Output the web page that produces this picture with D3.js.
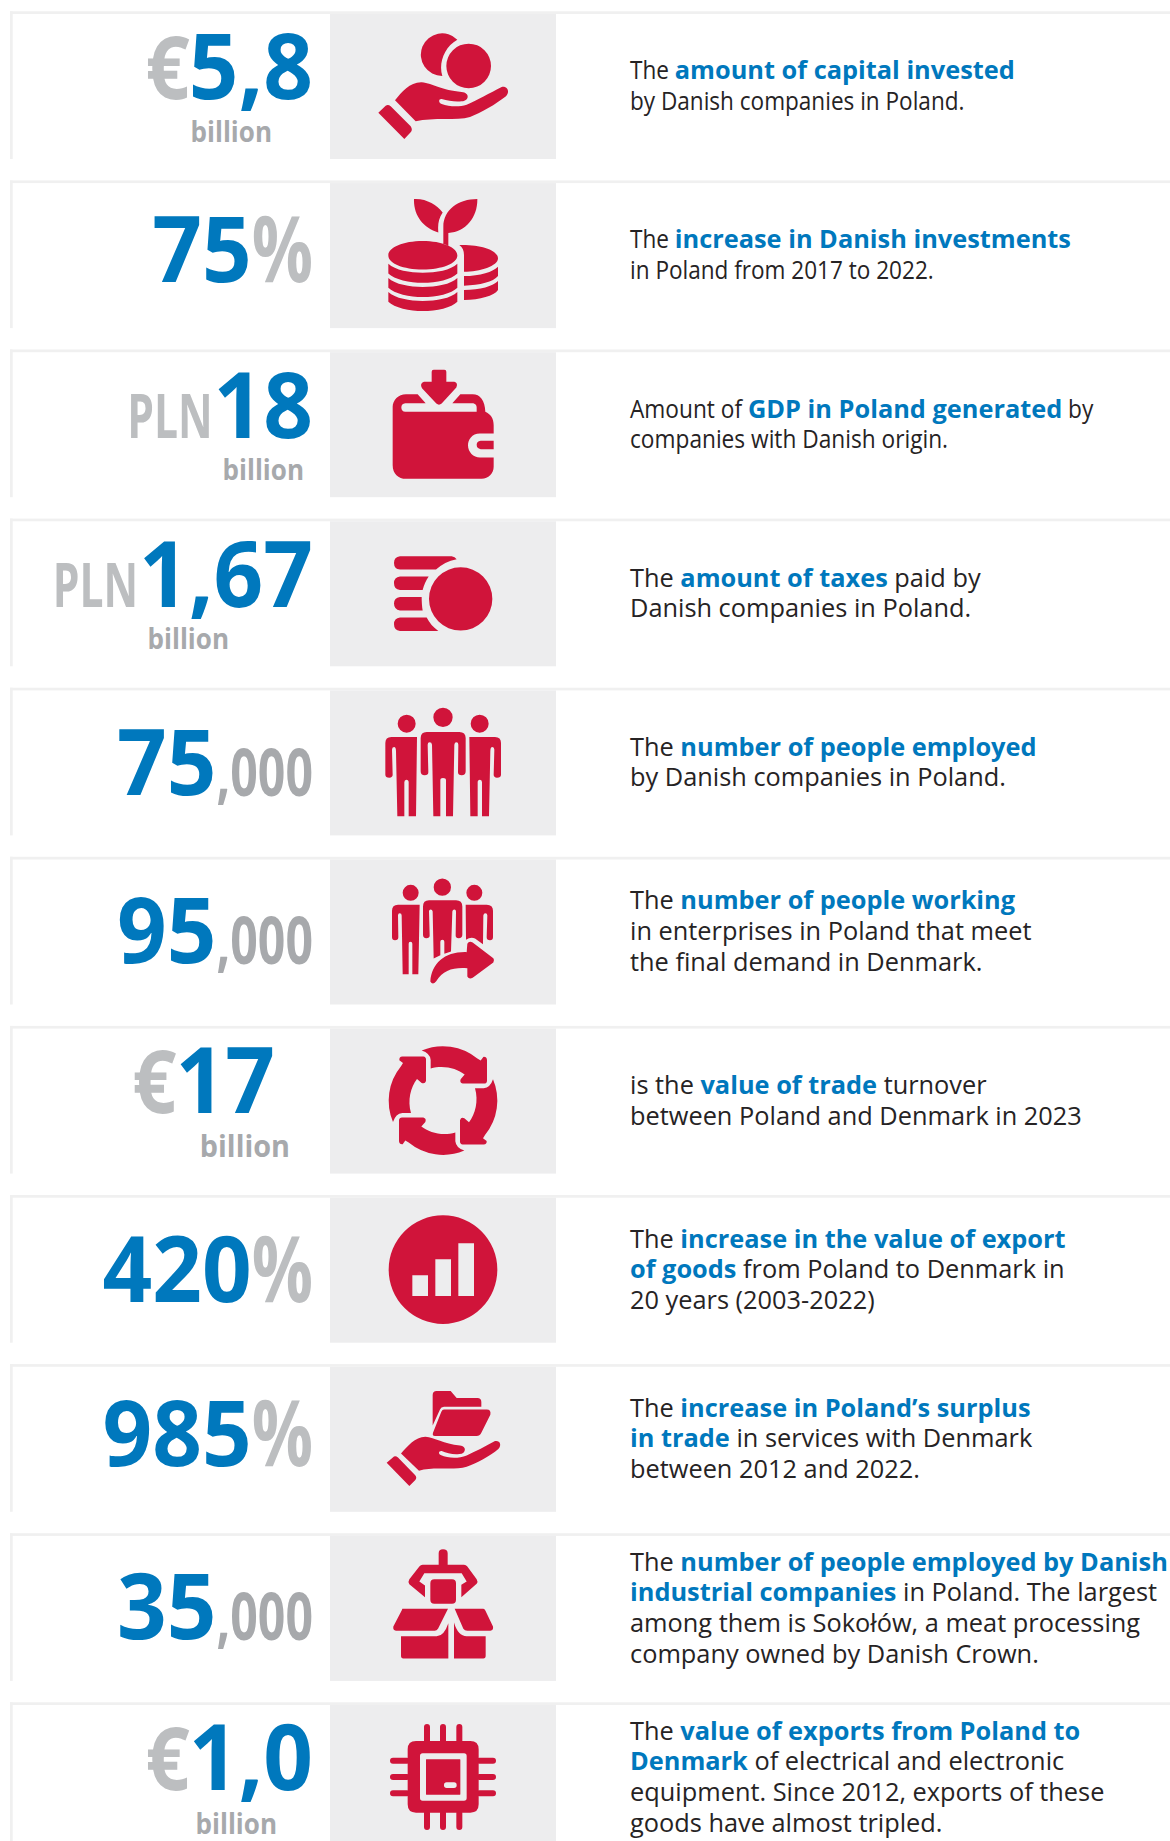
<!DOCTYPE html>
<html>
<head>
<meta charset="utf-8">
<script src="https://cdn.jsdelivr.net/npm/d3@7.9.0/dist/d3.min.js"></script>
<style>
  html, body { margin: 0; padding: 0; background: #fff; }
  svg { display: block; }
  text { font-family: "Open Sans", sans-serif; white-space: pre; }
</style>
</head>
<body>
<div id="chart"></div>
<script>
/* ---------------------------------------------------------
   DATA
--------------------------------------------------------- */
const prefixes = ['€', '', 'PLN', 'PLN', '', '', '€', '', '', '', '€'];
const numbers = ['5,8', '75', '18', '1,67', '75', '95', '17', '420', '985', '35', '1,0'];
const suffixes = ['', '%', '', '', ',000', ',000', '', '%', '%', ',000', ''];
const units = ['billion', '', 'billion', 'billion', '', '', 'billion', '', '', '', 'billion'];

// text between * * is the blue bold part
const descriptions = [
  ['The *amount of capital invested*', 'by Danish companies in Poland.'],
  ['The *increase in Danish investments*', 'in Poland from 2017 to 2022.'],
  ['Amount of *GDP in Poland generated* by', 'companies with Danish origin.'],
  ['The *amount of taxes* paid by', 'Danish companies in Poland.'],
  ['The *number of people employed*', 'by Danish companies in Poland.'],
  ['The *number of people working*', 'in enterprises in Poland that meet', 'the final demand in Denmark.'],
  ['is the *value of trade* turnover', 'between Poland and Denmark in 2023'],
  ['The *increase in the value of export*', '*of goods* from Poland to Denmark in', '20 years (2003-2022)'],
  ['The *increase in Poland’s surplus*', '*in trade* in services with Denmark', 'between 2012 and 2022.'],
  ['The *number of people employed by Danish*', '*industrial companies* in Poland. The largest', 'among them is Sokołów, a meat processing', 'company owned by Danish Crown.'],
  ['The *value of exports from Poland to*', '*Denmark* of electrical and electronic', 'equipment. Since 2012, exports of these', 'goods have almost tripled.']
];

/* ---------------------------------------------------------
   LAYOUT (per row, the artwork was not quite regular)
--------------------------------------------------------- */
const width = 1170;
const height = 1841;
const numberBaseline = [88, 102, 88, 88, 107, 106, 87, 107, 102, 106, 88];
const numberRight = [313, 313, 313, 313, 313, 313, 275, 313, 313, 313, 313];
const unitBaseline = [131, 0, 130, 130, 0, 0, 131, 0, 0, 0, 132];
const unitRight = [272, 0, 304, 229, 0, 0, 290, 0, 0, 0, 277];
const unitSize = [28, 0, 28, 28, 0, 0, 31, 0, 0, 0, 28];
const plainScale = [0.89, 0.89, 0.895, 1, 1, 1, 1, 1, 1, 1, 1];

const BLUE = '#0078bd';
const GREY = '#bcbec0';
const UNIT_GREY = '#a7a9ac';
const RED = '#d0143a';
const PANEL = '#ededee';
const LINE = '#f0f0f0';
const INK = '#262324';

const rowY = d3.scaleLinear().domain([0, 10]).range([11.3, 1702.3]);

/* ---------------------------------------------------------
   ICONS (paths traced at 3x, origin shifted by off)
--------------------------------------------------------- */
function rr(x, y, w, h, r) {
  return `M${x + r} ${y}H${x + w - r}Q${x + w} ${y} ${x + w} ${y + r}V${y + h - r}Q${x + w} ${y + h} ${x + w - r} ${y + h}H${x + r}Q${x} ${y + h} ${x} ${y + h - r}V${y + r}Q${x} ${y} ${x + r} ${y}Z`;
}
function disc(cx, cy, r) {
  return `M${cx - r} ${cy}A${r} ${r} 0 1 1 ${cx + r} ${cy}A${r} ${r} 0 1 1 ${cx - r} ${cy}Z`;
}

const icons = [
  { off: 33, d:
    'M412 118A64 64 0 1 0 367 227C355 190 372 140 412 118Z' + disc(446, 197, 67) +
    'M225 300C245 275 270 245 305 246C340 250 365 270 425 275C449 277 449 301 425 303C405 305 385 302 365 296C355 295 355 308 365 311C385 318 415 322 440 313C470 300 510 278 545 260C560 257 572 272 558 288C530 310 480 340 450 350C410 362 340 350 287 363Z' +
    'M175 337L197 316Q205 312 212 318L272 378Q279 388 272 396L253 416Z' },
  { off: 541, d:
    'M282 597C320 595 350 615 368 637C355 655 353 675 355 697C310 685 280 645 282 597Z' +
    'M472 597C473 650 440 695 385 699L385 737L370 732L370 680C370 630 415 597 472 597Z' +
    'M205 766C205 742 250 723 308 723C366 723 412 742 412 766C412 790 366 808 308 808C250 808 205 790 205 766Z' +
    'M205 791C225 810 270 818 308 818C350 818 392 810 412 791L412 820C395 838 350 848 308 848C270 848 222 838 205 820Z' +
    'M205 834C225 853 270 861 308 861C350 861 392 853 412 834L412 863C395 881 350 891 308 891C270 891 222 881 205 863Z' +
    'M205 876C225 895 270 903 308 903C350 903 392 895 412 876L412 905C395 923 350 933 308 933C270 933 222 923 205 905Z' +
    'M418 735C480 733 534 750 534 775C534 797 480 815 432 815L432 765C432 752 428 742 418 735Z' +
    'M432 828C480 828 520 815 534 800L534 828C520 846 480 855 432 857Z' +
    'M432 870C480 870 520 858 534 843L534 870C522 888 480 899 432 900Z' },
  { off: 28, d:
    'M335 95Q335 89 341 89L373 89Q379 89 379 95L379 125L403 125Q415 128 409 142L365 190Q357 197 349 190L306 144Q298 130 312 125L335 125Z' +
    'M258 162L293 162L317 189L397 189L421 162L458 162C480 162 495 180 496 215C512 222 521 235 521 255L521 280L480 280C455 280 444 300 444 315C444 335 460 352 480 352L521 352L521 380C521 400 505 416 485 416L258 416C235 416 218 400 218 375L218 200C218 180 235 162 258 162Z' +
    'M256 189L460 189Q470 192 470 202L470 215L256 215Q244 214 244 202Q244 190 256 189Z' +
    'M482 302L521 302L521 327L482 327Q470 325 470 314Q470 304 482 302Z' },
  { off: 535, d:
    disc(422, 776, 95) +
    'M240 648L395 648Q405 650 410 657C385 662 365 672 348 688L240 688Q222 686 222 668Q222 650 240 648Z' +
    'M240 709L326 709C318 720 312 735 308 749L240 749Q222 747 222 729Q222 711 240 709Z' +
    'M240 770L305 770C305 785 306 800 308 811L240 811Q222 808 222 790Q222 772 240 770Z' +
    'M240 832L320 832C328 848 340 862 355 872L240 872Q222 870 222 852Q222 834 240 832Z' },
  { off: 24, d:
    disc(260, 132, 27) + disc(369, 113, 29) + disc(479, 132, 27) +
    'M196 190Q196 172 214 172L291 172L288 410L266 410L266 308Q266 300 259 300Q253 300 253 308L253 410L232 410L228 215Q228 202 222 202Q216 202 216 210L218 285Q218 293 208 294Q196 294 196 285Z' +
    'M543 190Q543 172 525 172L448 172L451 410L473 410L473 308Q473 300 480 300Q486 300 486 308L486 410L507 410L511 215Q511 202 517 202Q523 202 523 210L521 285Q521 293 531 294Q543 294 543 285Z' +
    'M302 175Q302 157 320 157L418 157Q437 157 437 175L437 275Q437 287 425 287Q414 287 414 278L415 195Q415 188 409 188Q404 188 403 195L399 410L378 410L378 302Q378 295 369 295Q361 295 361 302L361 410L340 410L336 195Q335 188 329 188Q323 188 323 195L325 278Q325 287 314 287Q302 287 302 275Z' },
  { off: 531, d:
    disc(272, 639, 24) + disc(367, 622, 26) + disc(463, 639, 24) +
    'M216 693Q216 675 234 675L299 675L295 883L277 883L277 792Q277 786 271 786Q266 786 266 792L266 883L248 883L245 707Q245 700 239 700Q234 700 234 707L235 772Q235 781 225 781Q216 781 216 772Z' +
    'M309 680Q309 661 327 661L408 661Q427 661 427 680L427 765Q427 775 416 775Q407 775 407 767L408 695Q408 689 403 689Q398 689 397 695L393 815L373 822L373 786Q373 780 367 780Q361 780 361 786L361 826L341 836L338 695Q337 689 332 689Q327 689 327 695L329 767Q329 775 319 775Q309 775 309 765Z' +
    'M437 675L500 675Q519 675 519 693L519 772Q519 781 510 781Q500 781 500 772L502 707Q502 700 496 700Q491 700 490 707L489 793L465 776Q452 770 438 780Z' +
    'M331 905C335 850 375 815 440 817L442 792Q447 782 458 788L520 835Q525 842 520 848L458 894Q447 900 442 890L442 865C400 862 370 870 348 905Q338 917 331 905Z' },
  { off: 18, turn: [369, 242], d:
    'M305 92A163 163 0 0 1 472 116L482 122L490 111Q500 110 501 120L501 183Q500 191 492 191L428 191Q418 188 422 178L434 164C410 145 370 135 332 146L332 120Q330 100 305 92Z' },
  { off: 525, d:
    disc(369, 749, 163) + 'M277 766H324V828H277Z' + 'M346 718H393V828H346Z' + 'M415 670H462V828H415Z' },
  { off: 1032, d:
    'M338 1125Q338 1113 350 1113L392 1113L410 1134L472 1134Q484 1134 484 1146L484 1160L372 1160Q363 1160 360 1168L338 1216Z' +
    'M372 1168L500 1168Q514 1168 511 1184L484 1238Q479 1248 470 1248L345 1248Q336 1248 339 1238L364 1175Q367 1168 372 1168Z' +
    'M243 1300C262 1280 285 1250 316 1250C345 1252 370 1272 420 1276C440 1278 440 1300 418 1302C400 1304 380 1300 365 1293C355 1292 355 1302 362 1305C385 1315 415 1316 440 1306C465 1295 495 1280 525 1263C540 1260 546 1275 535 1287C510 1308 470 1330 440 1340C400 1352 340 1338 297 1352Z' +
    'M200 1328L222 1309Q228 1307 234 1312L285 1365Q292 1373 286 1380L268 1398Z' },
  { off: 40, d:
    'M356 100Q356 88 369 88Q383 88 383 100L383 135L432 135Q438 135 442 140L470 178Q475 186 470 192L424 232L424 195L440 185L425 160L313 160L298 185L315 197L315 232L268 193Q263 186 268 178L298 140Q302 135 308 135L356 135Z' +
    rr(331, 178, 77, 74, 12) +
    'M247 267L384 267L354 327Q350 333 344 333L228 333Q218 331 220 320L245 272Z' +
    'M404 267L490 267Q494 267 496 272L519 320Q521 331 511 333L442 333Q434 333 430 327Z' +
    'M243 349L350 349Q372 349 385 310L385 416L250 416Q243 416 243 408Z' +
    'M402 308Q414 349 440 349L497 349L497 408Q497 416 490 416L402 416Z' },
  { off: 547, d:
    rr(263, 663, 213, 215, 25) + rr(300, 700, 140, 142, 8) + rr(318, 718, 103, 106, 1) + rr(372, 787, 38, 17, 8),
    pins:
    [321, 369, 418].map((x) => rr(x - 9, 612, 18, 60, 9) + rr(x - 9, 870, 18, 60, 9)).join('') +
    [722, 771, 820].map((y) => rr(210, y - 9, 60, 18, 9) + rr(469, y - 9, 59, 18, 9)).join('') }
];

/* ---------------------------------------------------------
   DRAW
--------------------------------------------------------- */
const svg = d3.select('#chart').append('svg')
  .attr('width', width)
  .attr('height', height)
  .attr('viewBox', `0 0 ${width} ${height}`);

const rows = svg.selectAll('g.row')
  .data(numbers)
  .join('g')
  .attr('class', 'row')
  .attr('transform', (d, i) => `translate(0,${rowY(i)})`);

// frame lines and grey panel
rows.append('rect').attr('x', 10).attr('y', 0).attr('width', width - 10).attr('height', 2.7).attr('fill', LINE);
rows.append('rect').attr('x', 10).attr('y', 0).attr('width', 2.7).attr('height', 147.7).attr('fill', LINE);
rows.append('rect').attr('x', 330).attr('y', 2.7).attr('width', 226).attr('height', 145).attr('fill', PANEL);

// icons
rows.each(function (d, i) {
  const icon = icons[i];
  const g = d3.select(this).append('g')
    .attr('transform', `translate(330,0) scale(${1 / 3}) translate(-30,${-icon.off})`);
  if (icon.pins) g.append('path').attr('d', icon.pins).attr('fill', RED);
  const turns = icon.turn ? [0, 90, 180, 270] : [0];
  turns.forEach((a) => {
    const p = g.append('path').attr('d', icon.d).attr('fill', RED).attr('fill-rule', 'evenodd');
    if (a) p.attr('transform', `rotate(${a} ${icon.turn[0]} ${icon.turn[1]})`);
  });
});

// one part of the big number, placed right to left, returns its left edge
function numberPart(g, text, x, y, size, weight, sx, color) {
  const t = g.append('text')
    .attr('transform', `translate(${x},${y}) scale(${sx},1)`)
    .attr('text-anchor', 'end')
    .attr('font-size', size)
    .attr('font-weight', weight)
    .attr('fill', color)
    .text(text);
  return x - t.node().getComputedTextLength() * sx;
}

rows.each(function (d, i) {
  const g = d3.select(this);
  const y = numberBaseline[i];
  let x = numberRight[i];
  const suffix = suffixes[i];
  if (suffix === '%') x = numberPart(g, suffix, x, y, 92, 700, 0.74, GREY);
  if (suffix === ',000') x = numberPart(g, suffix, x, y + 1, 67, 700, 0.72, UNIT_GREY);
  x = numberPart(g, numbers[i], x, y, 92, 700, 0.945, BLUE);
  const prefix = prefixes[i];
  if (prefix === '€') numberPart(g, prefix, x + 1, y, 88, 700, 0.88, GREY);
  if (prefix === 'PLN') numberPart(g, prefix, x - 1, y, 60, 700, 0.71, GREY);
  if (units[i]) numberPart(g, units[i], unitRight[i], unitBaseline[i], unitSize[i], 700, 0.93, UNIT_GREY);
});

// descriptions: the plain text is narrower than the bold in the first rows
rows.each(function (d, i) {
  const lines = descriptions[i];
  const top = 68 - (lines.length - 2) * 15.35;
  const g = d3.select(this);
  lines.forEach((line, k) => {
    let x = 630;
    line.split('*').forEach((run, j) => {
      if (!run) return;
      const bold = j % 2 === 1;
      const sx = bold ? 1 : plainScale[i];
      const t = g.append('text')
        .attr('transform', `translate(${x},${top + k * 30.7}) scale(${sx},1)`)
        .attr('font-size', 25.35)
        .attr('font-weight', bold ? 700 : 400)
        .attr('fill', bold ? BLUE : INK)
        .text(run);
      x += t.node().getComputedTextLength() * sx;
    });
  });
});
</script>
</body>
</html>
